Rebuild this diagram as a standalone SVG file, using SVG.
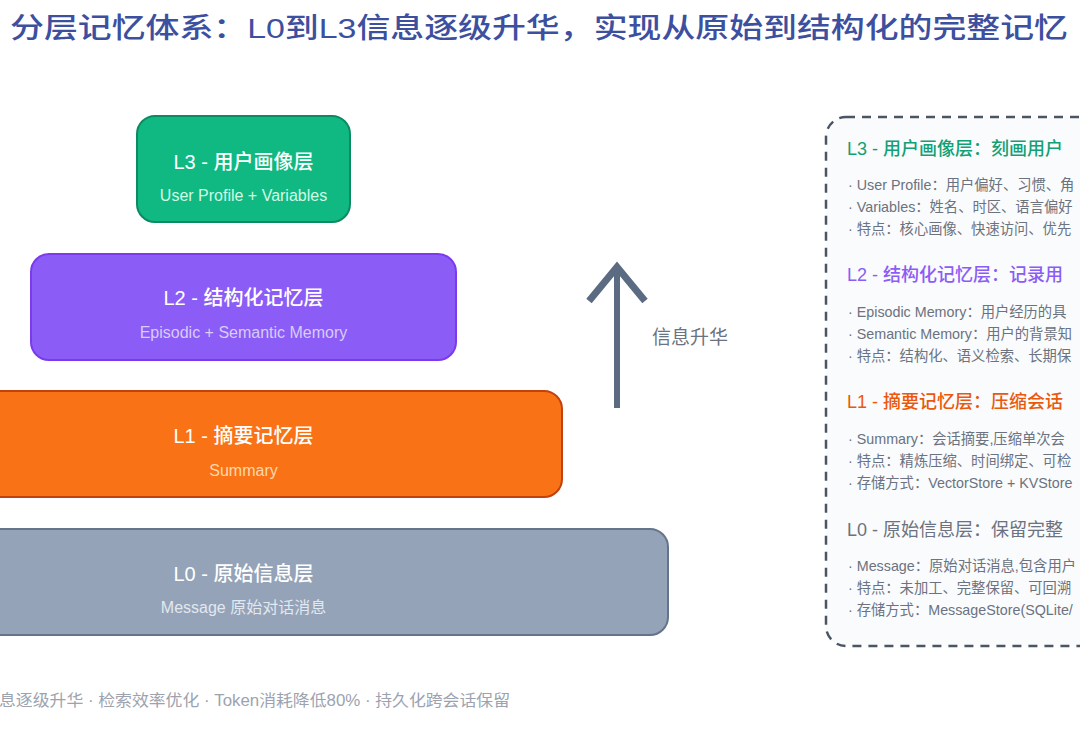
<svg xmlns="http://www.w3.org/2000/svg" width="1080" height="744" viewBox="0 0 1080 744">
<style>
text{font-family:"Liberation Sans","Noto Sans CJK SC",sans-serif}
.title{font-size:28px;font-weight:500;fill:#3d4f9f}
.nt{font-size:20px;font-weight:500;fill:#ffffff;text-anchor:middle}
.ns{font-size:16px;text-anchor:middle}
.box{stroke-width:2}
.ph{font-size:18px;font-weight:500}
.ph0{font-size:18px;font-weight:400}
.pi{font-size:14.3px;fill:#6b7280}
.foot{font-size:16px;fill:#9ca3af}
</style>
<rect width="1080" height="744" fill="#ffffff"/>
<text class="title" x="10" y="38" textLength="1058" lengthAdjust="spacingAndGlyphs">分层记忆体系：L0到L3信息逐级升华，实现从原始到结构化的完整记忆</text>

<g id="node-l3">
<rect class="box" x="137" y="116" width="213" height="106" rx="18" fill="#10b981" stroke="#0b8a63"/>
<text class="nt" x="243.5" y="169">L3 - 用户画像层</text>
<text class="ns" x="243.5" y="201" fill="#d1fae5">User Profile + Variables</text>
</g>
<g id="node-l2">
<rect class="box" x="31" y="254" width="425" height="106" rx="18" fill="#8b5cf6" stroke="#7c3aed"/>
<text class="nt" x="243.5" y="305">L2 - 结构化记忆层</text>
<text class="ns" x="243.5" y="338" fill="#d8ccfb">Episodic + Semantic Memory</text>
</g>
<g id="node-l1">
<rect class="box" x="-75" y="391" width="637" height="106" rx="18" fill="#f97316" stroke="#c2410c"/>
<text class="nt" x="243.5" y="443">L1 - 摘要记忆层</text>
<text class="ns" x="243.5" y="476" fill="#fed7aa">Summary</text>
</g>
<g id="node-l0">
<rect class="box" x="-181" y="529" width="849" height="106" rx="18" fill="#94a3b8" stroke="#64748b"/>
<text class="nt" x="243.5" y="581">L0 - 原始信息层</text>
<text class="ns" x="243.5" y="613" fill="#e2e8f0">Message 原始对话消息</text>
</g>

<g id="connectors">
<line x1="617" y1="408" x2="617" y2="272" stroke="#5b6b82" stroke-width="6"/>
<polyline points="589,301 617,267 645,301" fill="none" stroke="#5b6b82" stroke-width="7" stroke-linejoin="miter"/>
<text x="652" y="344" font-size="19" fill="#6b7280">信息升华</text>
</g>

<g id="panel">
<rect x="826" y="117" width="300" height="529" rx="20" fill="#fafbfc" stroke="#4b5563" stroke-width="2.5" stroke-dasharray="9 7"/>
<text class="ph" x="847" y="155" fill="#12a074">L3 - 用户画像层：刻画用户</text>
<text class="pi" x="848" y="190">· User Profile：用户偏好、习惯、角</text>
<text class="pi" x="848" y="212">· Variables：姓名、时区、语言偏好</text>
<text class="pi" x="848" y="234">· 特点：核心画像、快速访问、优先</text>

<text class="ph" x="847" y="281" fill="#8b5cf6">L2 - 结构化记忆层：记录用</text>
<text class="pi" x="848" y="317">· Episodic Memory：用户经历的具</text>
<text class="pi" x="848" y="339">· Semantic Memory：用户的背景知</text>
<text class="pi" x="848" y="361">· 特点：结构化、语义检索、长期保</text>

<text class="ph" x="847" y="408" fill="#ea580c">L1 - 摘要记忆层：压缩会话</text>
<text class="pi" x="848" y="444">· Summary：会话摘要,压缩单次会</text>
<text class="pi" x="848" y="466">· 特点：精炼压缩、时间绑定、可检</text>
<text class="pi" x="848" y="488">· 存储方式：VectorStore + KVStore</text>

<text class="ph0" x="847" y="536" fill="#6b7280">L0 - 原始信息层：保留完整</text>
<text class="pi" x="848" y="571">· Message：原始对话消息,包含用户</text>
<text class="pi" x="848" y="593">· 特点：未加工、完整保留、可回溯</text>
<text class="pi" x="848" y="615">· 存储方式：MessageStore(SQLite/</text>
</g>

<text class="foot" x="-1" y="706" textLength="511" lengthAdjust="spacingAndGlyphs">息逐级升华 · 检索效率优化 · Token消耗降低80% · 持久化跨会话保留</text>
</svg>
